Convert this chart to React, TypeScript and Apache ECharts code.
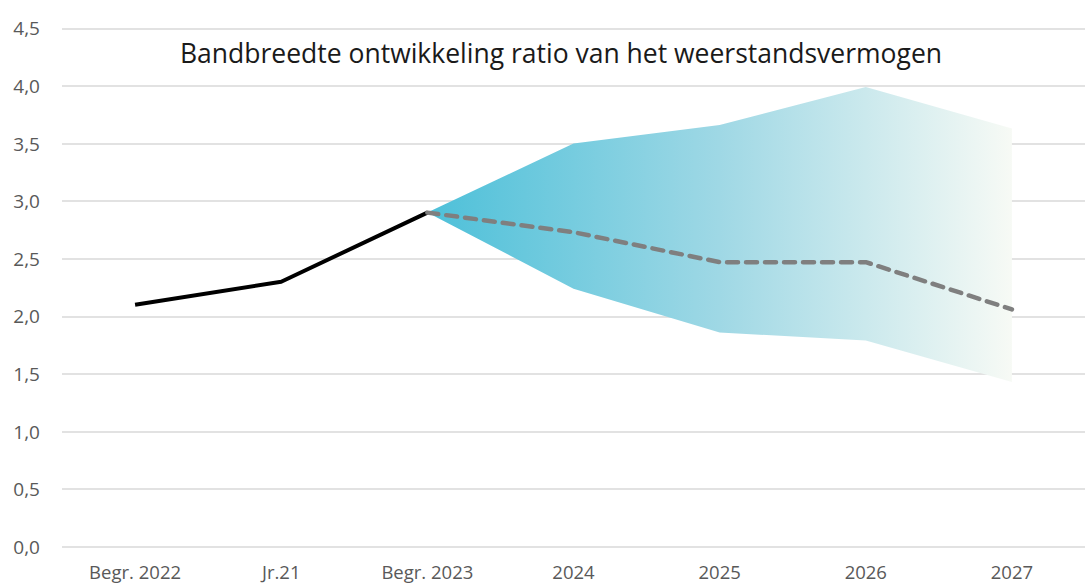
import React, { useEffect, useRef } from "react";
import * as echarts from "echarts";

const categories = ["Begr. 2022", "Jr.21", "Begr. 2023", "2024", "2025", "2026", "2027"];
const actual = [2.1, 2.3, 2.9, null, null, null, null];
const forecast = [null, null, 2.9, 2.73, 2.47, 2.47, 2.06];
const bandUpper = [null, null, 2.9, 3.5, 3.66, 3.99, 3.63];
const bandLower = [null, null, 2.9, 2.24, 1.86, 1.79, 1.43];
const yTicks = [0, 0.5, 1, 1.5, 2, 2.5, 3, 3.5, 4, 4.5];
const title = "Bandbreedte ontwikkeling ratio van het weerstandsvermogen";

export default function App() {
  const ref = useRef<HTMLDivElement>(null);
  useEffect(() => {
    if (!ref.current) return;
    const chart = echarts.init(ref.current, undefined, { renderer: "svg" });
    const bandDiff = bandUpper.map((u, i) =>
      u == null || bandLower[i] == null ? null : +(u - (bandLower[i] as number)).toFixed(3)
    );
    chart.setOption({
      animation: false,
      backgroundColor: "#ffffff",
      title: {
        text: title,
        left: 556,
        textAlign: "center",
        top: 34,
        textStyle: {
          fontFamily: "Open Sans",
          fontSize: 26.5,
          fontWeight: "normal",
          color: "#1a1a1a",
        },
      },
      grid: { left: 62, top: 28.3, width: 1036, height: 518.4, containLabel: false },
      xAxis: {
        type: "category",
        data: categories,
        boundaryGap: true,
        axisLine: { show: false },
        axisTick: { show: false },
        axisLabel: {
          color: "#595959",
          fontFamily: "Open Sans",
          fontSize: 18.5,
          lineHeight: 20,
          margin: 15,
        },
        splitLine: { show: false },
      },
      yAxis: {
        type: "value",
        min: 0,
        max: yTicks[yTicks.length - 1],
        interval: 0.5,
        axisLine: { show: false },
        axisTick: { show: false },
        axisLabel: {
          color: "#595959",
          fontFamily: "Open Sans",
          fontSize: 19,
          margin: 22,
          formatter: (v: number) => v.toFixed(1).replace(".", ","),
        },
        splitLine: { lineStyle: { color: "#d9d9d9", width: 1.5 } },
      },
      series: [
        {
          type: "line",
          data: bandLower,
          stack: "band",
          symbol: "none",
          lineStyle: { opacity: 0 },
          silent: true,
          z: 1,
        },
        {
          type: "line",
          data: bandDiff,
          stack: "band",
          symbol: "none",
          lineStyle: { opacity: 0 },
          areaStyle: {
            opacity: 1,
            color: new echarts.graphic.LinearGradient(0, 0, 1, 0, [
              { offset: 0, color: "#4dc0d9" },
              { offset: 0.5, color: "#9fd8e5" },
              { offset: 1, color: "#f7faf5" },
            ]),
          },
          silent: true,
          z: 1,
        },
        {
          type: "line",
          data: actual,
          symbol: "none",
          lineStyle: { color: "#000000", width: 4 },
          z: 3,
        },
        {
          type: "line",
          data: forecast,
          symbol: "none",
          lineStyle: { color: "#7f7f7f", width: 4.5, type: [11, 8], cap: "round" },
          z: 3,
        },
      ],
    });
    return () => chart.dispose();
  }, []);
  return (
    <div
      ref={ref}
      style={{ position: "fixed", left: 0, top: 0, width: 1085, height: 586 }}
    />
  );
}
